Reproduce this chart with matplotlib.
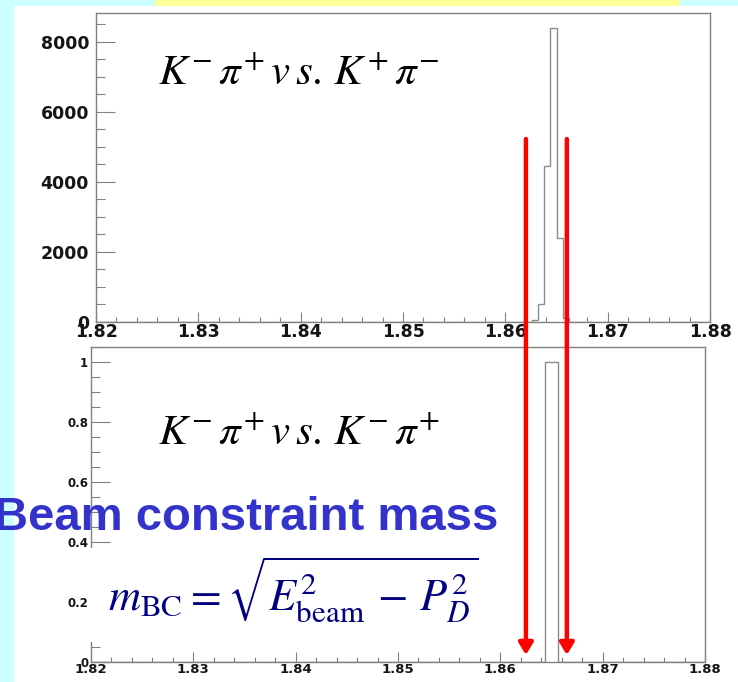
import numpy as np
import matplotlib
matplotlib.use('Agg')
import matplotlib.pyplot as plt
from matplotlib.patches import Rectangle
from matplotlib.ticker import MultipleLocator

W, H = 738, 682

# binning of both histograms (GeV)
x_lo, x_hi, n_bins = 1.82, 1.88, 100

# K- pi+ vs K+ pi- : non-empty bins (lower edge, entries)
top_bin_lo = [1.8626, 1.8632, 1.8638, 1.8644, 1.8650, 1.8656]
top_counts = [40, 500, 4450, 8400, 2380, 100]

# K- pi+ vs K- pi+
bot_bin_lo = [1.8644, 1.8650]
bot_counts = [1, 1]

# mBC window
mass_cuts = [1.8625, 1.8665]

x_ticks = [1.82, 1.83, 1.84, 1.85, 1.86, 1.87, 1.88]
x_labels = ['1.82', '1.83', '1.84', '1.85', '1.86', '1.87', '1.88']
top_y_ticks = [0, 2000, 4000, 6000, 8000]
top_y_labels = ['0', '2000', '4000', '6000', '8000']
bot_y_ticks = [0, 0.2, 0.4, 0.6, 0.8, 1.0]
bot_y_labels = ['0', '0.2', '0.4', '0.6', '0.8', '1']

plt.rcParams['font.family'] = 'DejaVu Sans'
plt.rcParams['mathtext.fontset'] = 'stix'


def fill_bins(lo_list, counts):
    width = (x_hi - x_lo) / n_bins
    h = np.zeros(n_bins)
    for lo, c in zip(lo_list, counts):
        h[int(round((lo - x_lo) / width))] = c
    return h


def px_rect(l, t, r, b):
    # pixel box (from top-left) -> figure fraction
    return [l / W, 1 - b / H, (r - l) / W, (b - t) / H]


def style_axes(ax, yticks, ylabels, yminor, ysize, xsize, ypad):
    for s in ax.spines.values():
        s.set_color('#808080')
        s.set_linewidth(1)
    ax.set_xticks(x_ticks, x_labels, fontweight='bold', fontsize=xsize, color='#151515')
    ax.set_yticks(yticks, ylabels, fontweight='bold', fontsize=ysize, color='#151515')
    ax.xaxis.set_minor_locator(MultipleLocator(0.002))
    ax.yaxis.set_minor_locator(MultipleLocator(yminor))
    ax.tick_params(which='both', direction='in', color='#808080', width=0.8,
                   top=False, right=False)
    ax.tick_params(axis='y', which='major', length=13.5, pad=ypad)
    ax.tick_params(axis='y', which='minor', length=6.5)
    ax.tick_params(axis='x', which='major', length=7, pad=1)
    ax.tick_params(axis='x', which='minor', length=3.5)


edges = np.linspace(x_lo, x_hi, n_bins + 1)
h_top = fill_bins(top_bin_lo, top_counts)
h_bot = fill_bins(bot_bin_lo, bot_counts)

fig = plt.figure(figsize=(W / 100, H / 100), dpi=100)
fig.patch.set_facecolor('#ccffff')
fig.add_artist(Rectangle((14 / W, 0), 1 - 14 / W, 1 - 6 / H, transform=fig.transFigure,
                         facecolor='white', edgecolor='none', zorder=-2))
fig.add_artist(Rectangle((155 / W, 1 - 6 / H), 525 / W, 6 / H, transform=fig.transFigure,
                         facecolor='#ffff99', edgecolor='none', zorder=-2))

# upper pad
ax_top = fig.add_axes(px_rect(96, 13, 710, 321.7))
ax_top.stairs(h_top, edges, color='#8c8c8c', lw=1)
ax_top.set_xlim(x_lo, x_hi)
ax_top.set_ylim(0, 1.05 * max(top_counts))
style_axes(ax_top, top_y_ticks, top_y_labels, 500, 12.5, 12.5, 5)

# lower pad
ax_bot = fig.add_axes(px_rect(91, 347, 705, 661.7))
ax_bot.stairs(h_bot, edges, color='#8c8c8c', lw=1)
ax_bot.set_xlim(x_lo, x_hi)
ax_bot.set_ylim(0, 1.05 * max(bot_counts))
style_axes(ax_bot, bot_y_ticks, bot_y_labels, 0.05, 8.5, 9.5, 2)

label_kw = dict(fontsize=31, ha='left', va='baseline', color='black')
fig.text(158 / W, 1 - 85 / H, r'$K^{-}\,\pi^{+}\,v\,s.\,K^{+}\,\pi^{-}$', **label_kw)
fig.text(158 / W, 1 - 445 / H, r'$K^{-}\,\pi^{+}\,v\,s.\,K^{-}\,\pi^{+}$', **label_kw)

# mass window arrows
for c in mass_cuts:
    ax_bot.annotate('', xy=(c, 1 - 655 / H), xycoords=('data', 'figure fraction'),
                    xytext=(c, 1 - 139 / H), textcoords=('data', 'figure fraction'),
                    arrowprops=dict(arrowstyle='-|>,head_length=0.7,head_width=0.42',
                                    color='#ff0000', lw=3.2, shrinkA=0, shrinkB=0),
                    annotation_clip=False, zorder=5)

# formula box
fig.add_artist(Rectangle((89 / W, 1 - 642 / H), 416 / W, 94 / H, transform=fig.transFigure,
                         facecolor='white', edgecolor='none', zorder=1.5))
fig.text(108 / W, 1 - 611 / H,
         r'$m_{\mathrm{BC}}{=}\sqrt{E_{\mathrm{beam}}^{2}\,-\,P_{D}^{2}}$',
         fontsize=32, color='#000080', ha='left', va='baseline', zorder=2)

fig.text(498 / W, 1 - 530 / H, 'Beam constraint mass', fontsize=34, fontweight='bold',
         family='Liberation Sans', color='#3333cc', ha='right', va='baseline', zorder=3)

fig.savefig('out.png', dpi=100, facecolor=fig.get_facecolor())
